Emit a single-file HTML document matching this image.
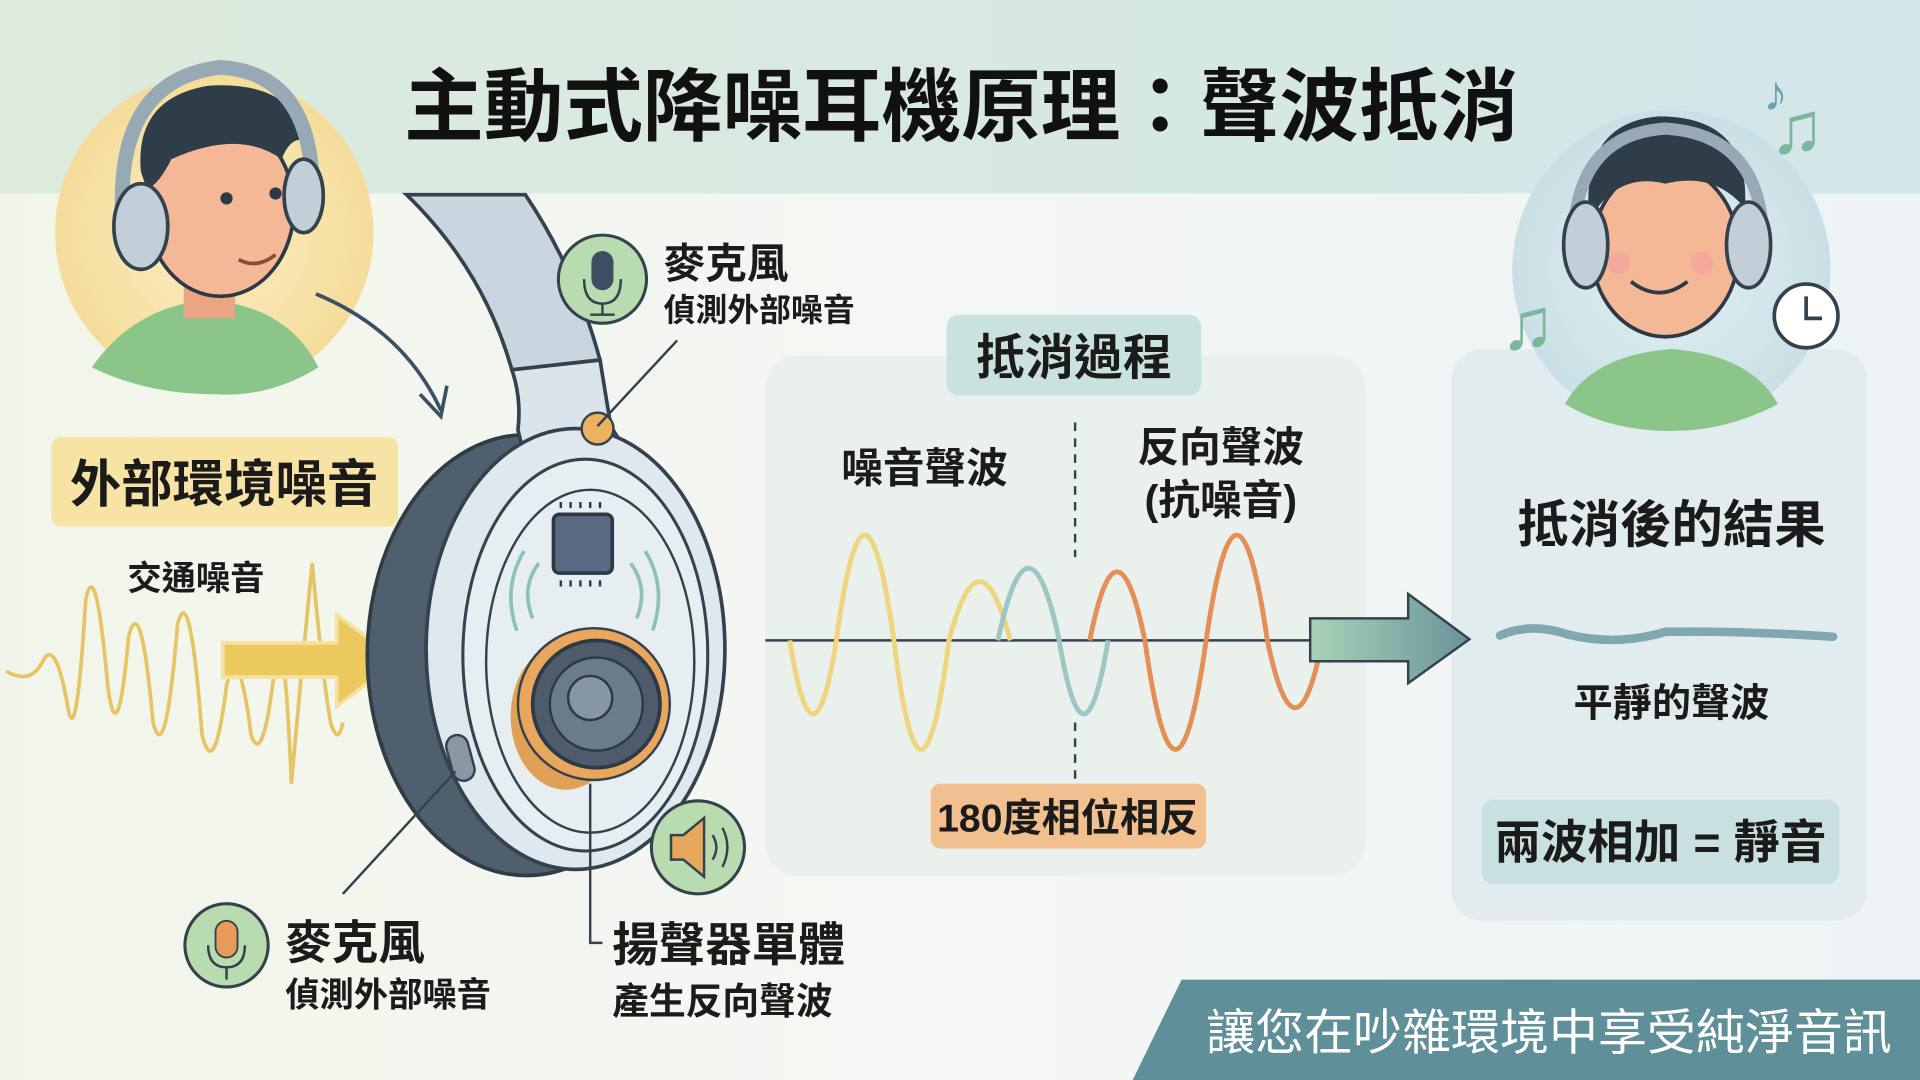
<!DOCTYPE html>
<html><head><meta charset="utf-8"><style>
html,body{margin:0;padding:0;width:1920px;height:1080px;overflow:hidden;background:#f3f6f2}
svg{display:block}
text{font-family:"Liberation Sans","Noto Sans CJK TC",sans-serif;font-weight:bold;fill:#1b1b1b}
</style></head><body>
<svg width="1920" height="1080" viewBox="0 0 1568 882" preserveAspectRatio="none" xmlns="http://www.w3.org/2000/svg">
<defs>
<linearGradient id="top" x1="0" x2="1"><stop offset="0" stop-color="#dcebdc"/><stop offset="1" stop-color="#d3e6e8"/></linearGradient>
<linearGradient id="bg" x1="0" x2="1"><stop offset="0" stop-color="#f1f5e9"/><stop offset="0.5" stop-color="#f4f7f4"/><stop offset="1" stop-color="#eef4f5"/></linearGradient>
<linearGradient id="arr" x1="0" x2="1"><stop offset="0" stop-color="#a9d2b8"/><stop offset="1" stop-color="#6a939b"/></linearGradient>
<radialGradient id="lc" cx="0.5" cy="0.5" r="0.5"><stop offset="0" stop-color="#fbeec5"/><stop offset="1" stop-color="#f5dc9a"/></radialGradient>
<radialGradient id="rc" cx="0.5" cy="0.5" r="0.5"><stop offset="0" stop-color="#e4f0f2"/><stop offset="1" stop-color="#c9e0e6"/></radialGradient>
</defs>
<rect width="1568" height="882" fill="url(#bg)"/>
<rect width="1568" height="158" fill="url(#top)"/>

<rect x="625" y="290" width="490" height="425" rx="26" fill="#e7efea" opacity="0.8"/>
<rect x="1185" y="285" width="340" height="467" rx="26" fill="#e1ecee"/>

<!-- left avatar -->
<circle cx="175" cy="190" r="130" fill="url(#lc)"/>
<path d="M75 300 Q110 250 170 245 Q235 250 260 300 Q220 325 175 322 Q120 322 75 300Z" fill="#8cc58a"/>
<rect x="150" y="215" width="42" height="45" fill="#eaa584"/>
<ellipse cx="180" cy="170" rx="60" ry="72" fill="#f4b896" stroke="#2d3a45" stroke-width="3"/>
<path d="M115 140 Q110 80 170 70 Q240 65 255 120 Q240 105 230 130 Q195 105 140 130 Q130 150 120 155Z" fill="#2f3d48"/>
<path d="M100 175 Q95 65 180 55 Q260 60 255 170" fill="none" stroke="#98a9b6" stroke-width="12"/>
<ellipse cx="115" cy="185" rx="22" ry="35" fill="#c3cfd8" stroke="#34424e" stroke-width="3"/>
<ellipse cx="248" cy="160" rx="16" ry="30" fill="#c3cfd8" stroke="#34424e" stroke-width="3"/>
<circle cx="185" cy="162" r="5" fill="#2d3a45"/><circle cx="225" cy="158" r="5" fill="#2d3a45"/>
<path d="M195 212 Q210 220 225 208" stroke="#8a4b3a" stroke-width="3" fill="none"/>
<path d="M258 240 Q330 270 360 335" fill="none" stroke="#3b5162" stroke-width="3"/>
<path d="M343 322 L360 340 L365 315" fill="none" stroke="#3b5162" stroke-width="3"/>

<!-- right avatar -->
<circle cx="1365" cy="220" r="130" fill="url(#rc)"/>
<path d="M1278 330 Q1300 290 1365 285 Q1430 290 1452 330 Q1410 352 1365 352 Q1315 352 1278 330Z" fill="#8cc58a"/>
<ellipse cx="1360" cy="205" rx="60" ry="70" fill="#f4b896" stroke="#2d3a45" stroke-width="3"/>
<path d="M1298 180 Q1290 100 1355 95 Q1430 95 1425 170 Q1400 140 1360 150 Q1320 140 1298 180Z" fill="#2f3d48"/>
<path d="M1285 200 Q1285 110 1360 105 Q1440 110 1440 200" fill="none" stroke="#98a9b6" stroke-width="10"/>
<ellipse cx="1295" cy="200" rx="18" ry="35" fill="#c3cfd8" stroke="#34424e" stroke-width="3"/>
<ellipse cx="1428" cy="200" rx="18" ry="35" fill="#c3cfd8" stroke="#34424e" stroke-width="3"/>
<circle cx="1322" cy="215" r="9" fill="#f2a0a0" opacity="0.7"/><circle cx="1390" cy="215" r="9" fill="#f2a0a0" opacity="0.7"/>
<path d="M1332 230 Q1355 248 1378 230" stroke="#2d3a45" stroke-width="3" fill="none"/>
<circle cx="1475" cy="258" r="26" fill="#fff" stroke="#34424e" stroke-width="3"/>
<path d="M1475 242 V260 H1488" stroke="#34424e" stroke-width="3" fill="none"/>
<text x="1440" y="90" font-size="40" style="fill:#6aa2ad">♪</text>
<text x="1445" y="125" font-size="60" style="fill:#7cb79a">♫</text>
<text x="1225" y="285" font-size="60" style="fill:#7cb79a">♫</text>

<text x="785" y="110" font-size="65" text-anchor="middle" style="fill:#111">主動式降噪耳機原理：聲波抵消</text>

<!-- left label -->
<rect x="42" y="357" width="283" height="73" rx="8" fill="#f7e3a3"/>
<text x="183" y="410" font-size="42" text-anchor="middle">外部環境噪音</text>
<text x="160" y="482" font-size="28" text-anchor="middle">交通噪音</text>
<path d="M5 548 Q25 560 35 540 Q45 520 55 575 Q62 620 70 490 Q78 450 88 560 Q96 620 105 520 Q115 480 125 590 Q135 630 145 510 Q155 470 165 600 Q175 640 185 560 Q195 520 205 600 Q215 630 225 540 Q232 500 238 640 Q245 560 255 460 Q263 550 270 590 Q276 610 280 590" fill="none" stroke="#e6c463" stroke-width="3"/>
<path d="M182 525 H275 V502 L325 539 L275 577 V553 H182Z" fill="#ecc95e" stroke="#f6e1a0" stroke-width="3"/>

<!-- headphone -->
<ellipse cx="430" cy="535" rx="130" ry="180" fill="#505f6e" stroke="#2f3b46" stroke-width="3"/>
<path d="M332 159 Q395 220 418 302 L490 294 Q470 220 429 159Z" fill="#c9d6df" stroke="#34424e" stroke-width="3"/>
<path d="M418 302 Q426 325 423 351 L430 380 L540 390 Q500 360 498 343 L490 294Z" fill="#dbe4ea" stroke="#34424e" stroke-width="3"/>
<ellipse cx="470" cy="530" rx="122" ry="180" fill="#dfe8ee" stroke="#34424e" stroke-width="3"/>
<ellipse cx="478" cy="535" rx="100" ry="160" fill="#e7eef2" stroke="#34424e" stroke-width="2.5"/>
<ellipse cx="482" cy="540" rx="85" ry="140" fill="none" stroke="#34424e" stroke-width="2"/>
<circle cx="488" cy="350" r="13" fill="#ecb262" stroke="#34424e" stroke-width="2"/>
<rect x="452" y="420" width="48" height="48" rx="5" fill="#5a6a85" stroke="#2d3a45" stroke-width="3"/>
<path d="M458 415 V410 M466 415 V410 M474 415 V410 M482 415 V410 M490 415 V410 M458 474 V479 M466 474 V479 M474 474 V479 M482 474 V479 M490 474 V479" stroke="#2d3a45" stroke-width="2"/>
<path d="M440 460 Q425 480 435 505 M428 450 Q410 480 422 515 M515 460 Q530 480 520 505 M527 450 Q545 480 533 515" fill="none" stroke="#8cc1b6" stroke-width="3"/>
<ellipse cx="462" cy="585" rx="45" ry="60" fill="#e0a055"/>
<circle cx="485" cy="575" r="62" fill="#e8a75c" stroke="#34424e" stroke-width="2"/>
<circle cx="487" cy="575" r="52" fill="#4d5b6a" stroke="#2d3a45" stroke-width="3"/>
<circle cx="487" cy="575" r="38" fill="#6c7b88" stroke="#2d3a45" stroke-width="2"/>
<circle cx="482" cy="570" r="18" fill="#8697a4" stroke="#2d3a45" stroke-width="2"/>
<rect x="367" y="600" width="18" height="38" rx="9" fill="#8b98a3" stroke="#34424e" stroke-width="2" transform="rotate(-15 376 619)"/>

<!-- mic top -->
<circle cx="492" cy="228" r="36" fill="#b8dcb0" stroke="#34424e" stroke-width="2.5"/>
<rect x="483" y="205" width="18" height="32" rx="9" fill="#3e4f63"/>
<path d="M477 228 Q477 248 492 248 Q507 248 507 228 M492 248 V256 M482 257 H502" stroke="#34424e" stroke-width="2" fill="none"/>
<path d="M553 278 L488 348" stroke="#34424e" stroke-width="2"/>
<text x="542" y="227" font-size="34">麥克風</text>
<text x="542" y="262" font-size="26">偵測外部噪音</text>

<!-- mic bottom -->
<circle cx="185" cy="772" r="34" fill="#b8dcb0" stroke="#34424e" stroke-width="2.5"/>
<rect x="176" y="752" width="18" height="30" rx="9" fill="#e79a5a" stroke="#34424e" stroke-width="1.5"/>
<path d="M170 772 Q170 790 185 790 Q200 790 200 772 M185 790 V800" stroke="#34424e" stroke-width="2" fill="none"/>
<path d="M280 730 L372 630" stroke="#34424e" stroke-width="2"/>
<text x="233" y="783" font-size="38">麥克風</text>
<text x="233" y="822" font-size="28">偵測外部噪音</text>

<!-- speaker -->
<circle cx="570" cy="692" r="38" fill="#b8dcb0" stroke="#34424e" stroke-width="2.5"/>
<path d="M548 682 H558 L575 668 V716 L558 702 H548Z" fill="#e8a75c" stroke="#34424e" stroke-width="2"/>
<path d="M582 682 Q588 692 582 702 M590 676 Q598 692 590 708" stroke="#34424e" stroke-width="2" fill="none"/>
<path d="M482 640 V770 H492" stroke="#34424e" stroke-width="2" fill="none"/>
<text x="500" y="785" font-size="38">揚聲器單體</text>
<text x="500" y="828" font-size="30">產生反向聲波</text>

<!-- center -->
<rect x="773" y="257" width="208" height="66" rx="10" fill="#c9e2df"/>
<text x="877" y="306" font-size="40" text-anchor="middle">抵消過程</text>
<text x="755" y="394" font-size="34" text-anchor="middle">噪音聲波</text>
<text x="997" y="377" font-size="34" text-anchor="middle">反向聲波</text>
<text x="997" y="420" font-size="34" text-anchor="middle">(抗噪音)</text>
<path d="M878 345 V455 M878 590 V640" stroke="#34424e" stroke-width="2" stroke-dasharray="7 6"/>
<line x1="625" y1="523" x2="1085" y2="523" stroke="#34424e" stroke-width="2"/>
<path d="M645 523 Q664 643 683 523 Q706 351 730 523 Q752 701 775 523 Q800 427 825 523" fill="none" stroke="#eed57e" stroke-width="4"/>
<path d="M815 523 Q840 405 865 523 Q885 643 905 523" fill="none" stroke="#9cc7c2" stroke-width="4"/>
<path d="M890 523 Q912 411 935 523 Q960 701 985 523 Q1010 351 1035 523 Q1058 633 1080 523" fill="none" stroke="#e48f55" stroke-width="4"/>
<rect x="760" y="640" width="225" height="53" rx="8" fill="#f2c08e"/>
<text x="872" y="679" font-size="32" text-anchor="middle">180度相位相反</text>

<path d="M1070 505 H1150 V485 L1200 522 L1150 558 V540 H1070Z" fill="url(#arr)" stroke="#34424e" stroke-width="2"/>

<!-- right -->
<text x="1365" y="443" font-size="42" text-anchor="middle">抵消後的結果</text>
<path d="M1225 519 Q1250 508 1280 518 Q1320 528 1360 516 Q1420 515 1497 520" fill="none" stroke="#7fa8b0" stroke-width="7" stroke-linecap="round"/>
<text x="1365" y="585" font-size="32" text-anchor="middle">平靜的聲波</text>
<rect x="1210" y="653" width="292" height="69" rx="10" fill="#c9e0e0"/>
<text x="1356" y="701" font-size="38" text-anchor="middle">兩波相加 = 靜音</text>

<!-- banner -->
<path d="M925 882 L965 800 H1568 V882Z" fill="#5f8f99"/>
<text x="1265" y="857" font-size="40" text-anchor="middle" style="fill:#fff;font-weight:normal">讓您在吵雜環境中享受純淨音訊</text>
</svg>
</body></html>
